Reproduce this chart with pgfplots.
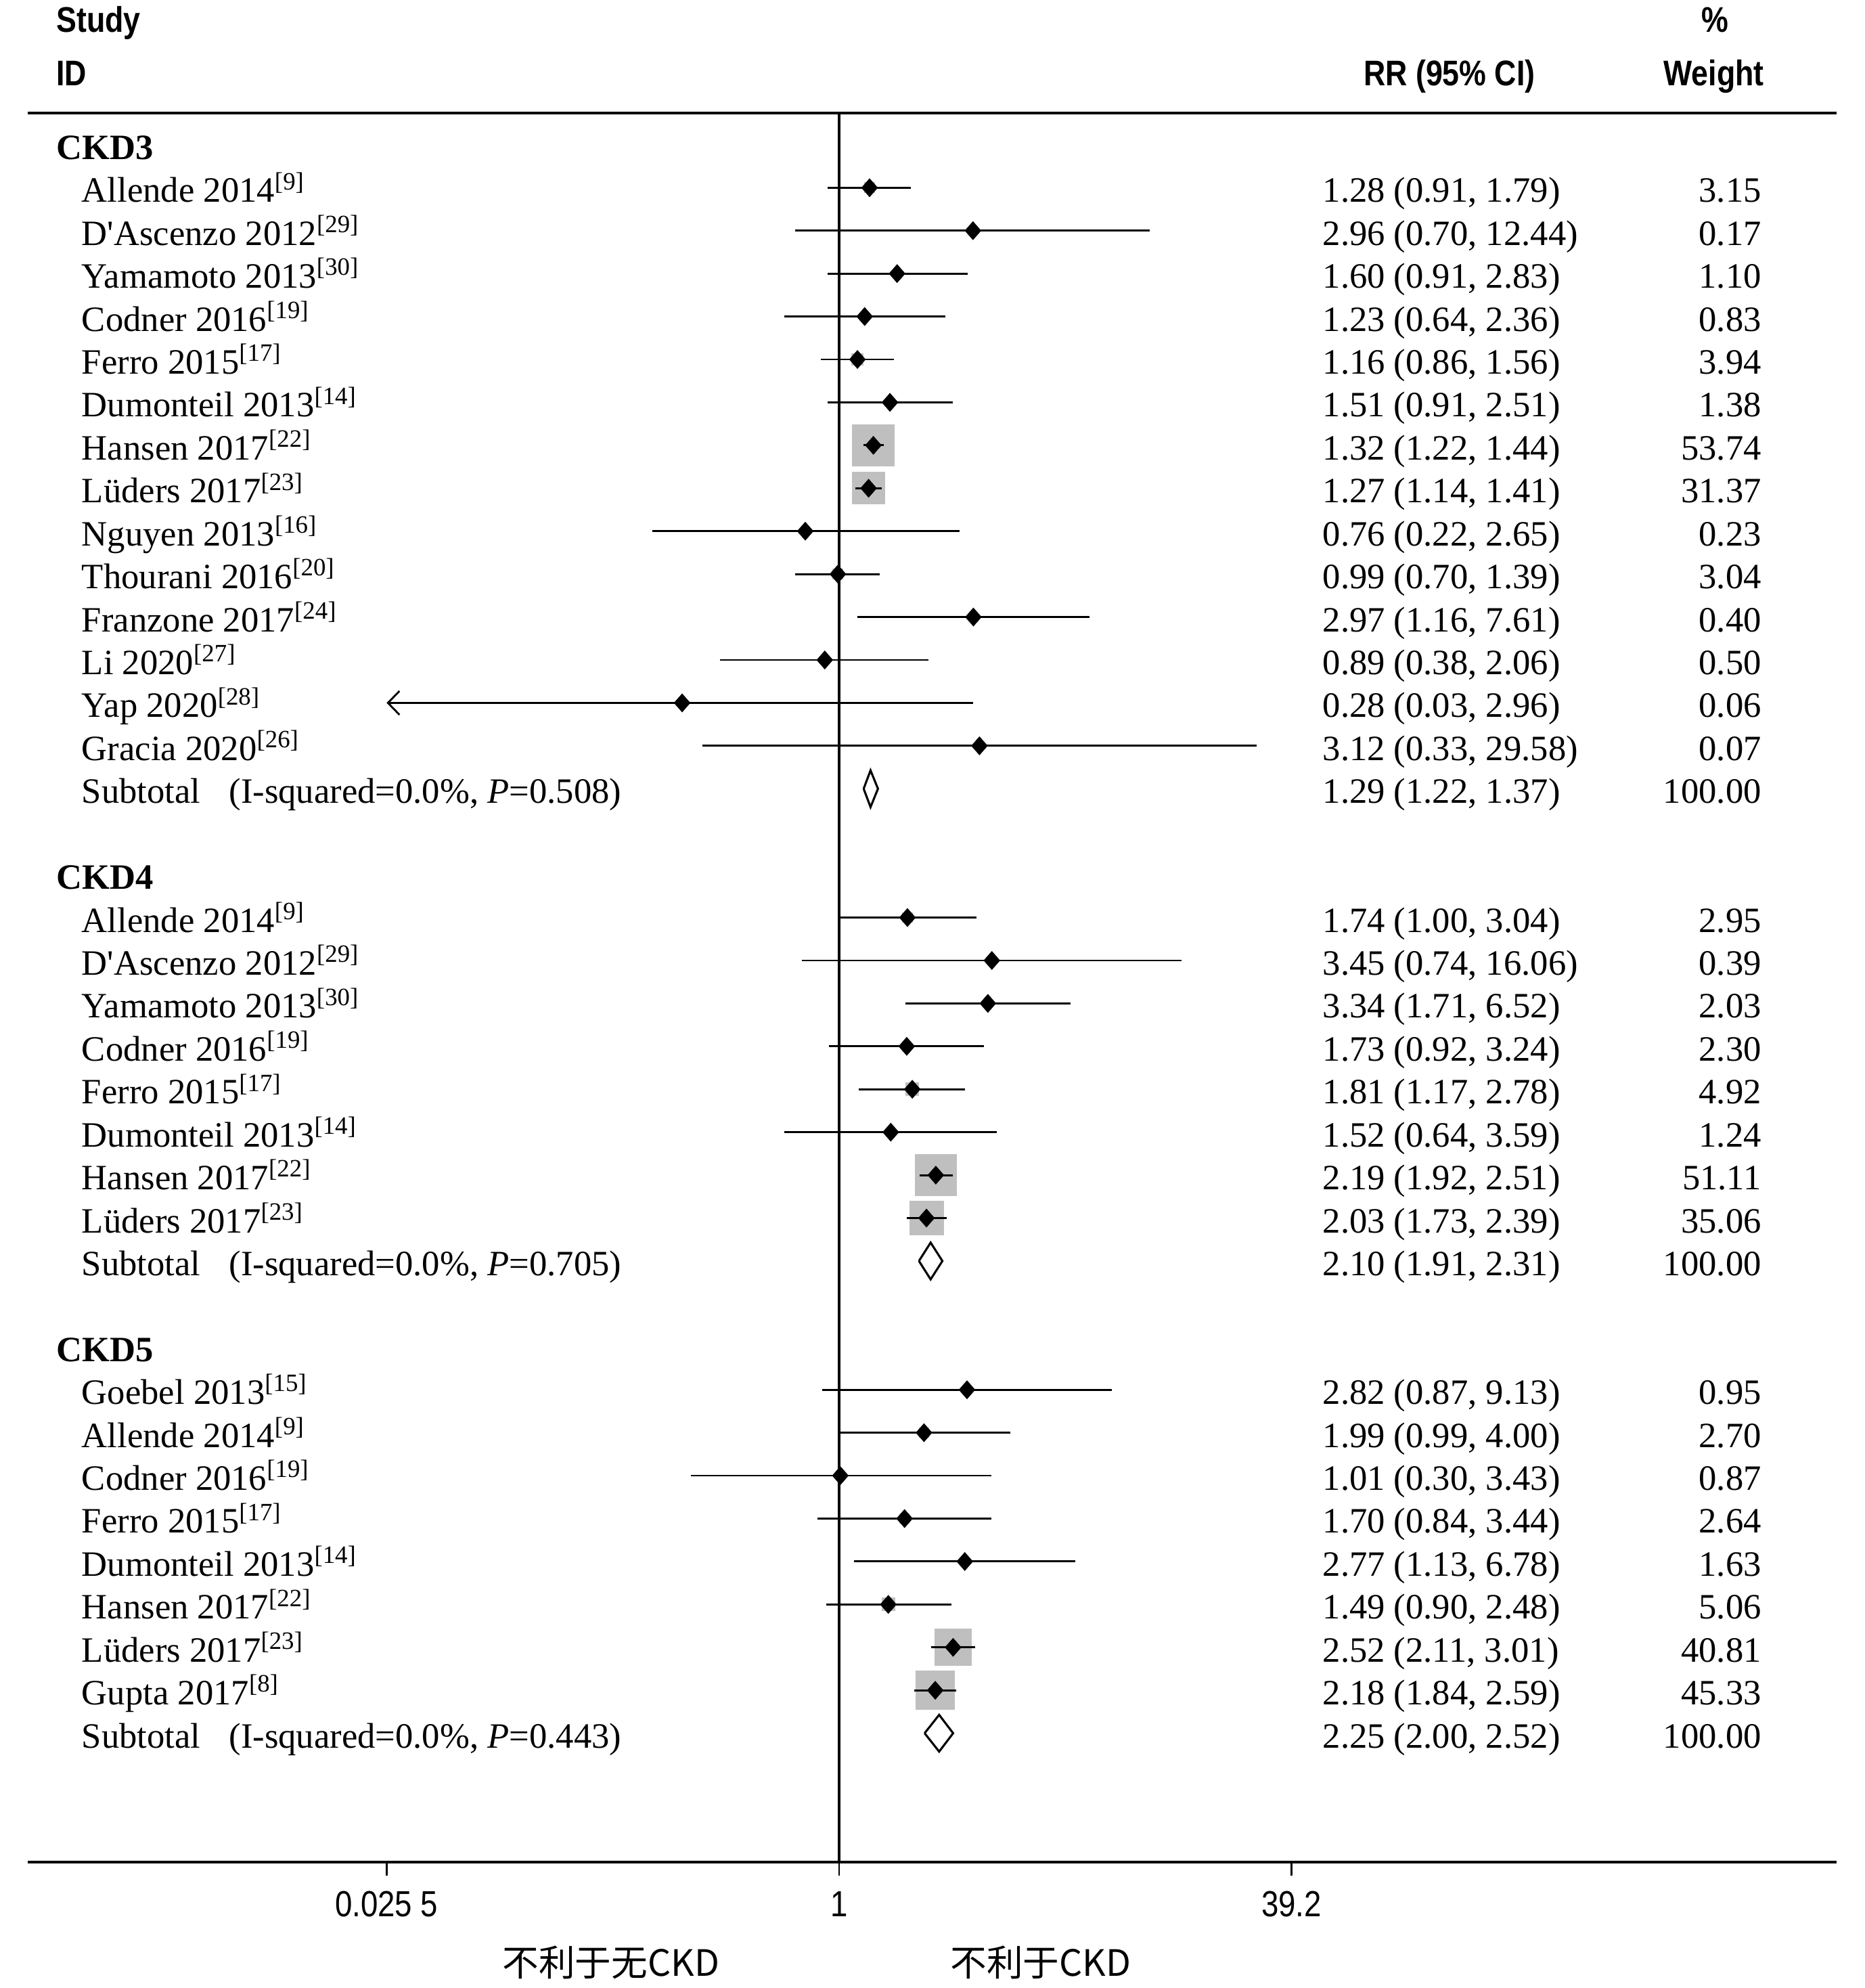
\documentclass[border=0pt]{standalone}
\usepackage{fontspec}
\setmainfont{Liberation Serif}[Ligatures=TeXOff]
\newfontfamily\hdfont[FakeStretch=0.85]{Liberation Sans}
\newfontfamily\cjk{Noto Sans CJK SC}
\usepackage{pgfplots}
\pgfplotsset{compat=1.18}
\usepackage{pgfplotstable}
\usetikzlibrary{arrows.meta}

% row = line of the forest plot (1 = CKD3 heading), est = RR, lo/hi = 95% CI, w = % weight
\pgfplotstableread{
row est lo hi w
2  1.28 0.91 1.79  3.15
3  2.96 0.70 12.44 0.17
4  1.60 0.91 2.83  1.10
5  1.23 0.64 2.36  0.83
6  1.16 0.86 1.56  3.94
7  1.51 0.91 2.51  1.38
8  1.32 1.22 1.44  53.74
9  1.27 1.14 1.41  31.37
10 0.76 0.22 2.65  0.23
11 0.99 0.70 1.39  3.04
12 2.97 1.16 7.61  0.40
13 0.89 0.38 2.06  0.50
14 0.28 0.03 2.96  0.06
15 3.12 0.33 29.58 0.07
}\ckdthree

\pgfplotstableread{
row est lo hi w
19 1.74 1.00 3.04  2.95
20 3.45 0.74 16.06 0.39
21 3.34 1.71 6.52  2.03
22 1.73 0.92 3.24  2.30
23 1.81 1.17 2.78  4.92
24 1.52 0.64 3.59  1.24
25 2.19 1.92 2.51  51.11
26 2.03 1.73 2.39  35.06
}\ckdfour

\pgfplotstableread{
row est lo hi w
30 2.82 0.87 9.13 0.95
31 1.99 0.99 4.00 2.70
32 1.01 0.30 3.43 0.87
33 1.70 0.84 3.44 2.64
34 2.77 1.13 6.78 1.63
35 1.49 0.90 2.48 5.06
36 2.52 2.11 3.01 40.81
37 2.18 1.84 2.59 45.33
}\ckdfive

\newcommand\rf[1]{\textsuperscript{[#1]}}
% one text line: row, study, RR (95% CI), weight
\newcommand\study[4]{%
  \node[inner sep=0pt,anchor=base west,xshift=-217.06pt,yshift=-4.17pt] at (axis cs:1,#1) {#2};
  \node[inner sep=0pt,anchor=base west,xshift=138.30pt,yshift=-4.17pt] at (axis cs:1,#1) {#3};
  \node[inner sep=0pt,anchor=base east,xshift=264.25pt,yshift=-4.17pt] at (axis cs:1,#1) {#4};}
\newcommand\grp[2]{%
  \node[inner sep=0pt,anchor=base west,xshift=-224.32pt,yshift=-4.17pt,font=\bfseries\fontsize{10.2}{12}\selectfont] at (axis cs:1,#1) {#2};}

\pgfplotsset{
  wbox/.style={scatter, only marks, mark=square*,
    scatter/use mapped color={draw=black!25,fill=black!25},
    mark options={line width=0pt},
    visualization depends on={0.8165*sqrt(\thisrow{w}) \as \boxhalf},
    scatter/@pre marker code/.append style={/tikz/mark size=\boxhalf}},
  rr/.style={black, only marks, mark=diamond*, mark size=2.55pt,
    mark options={xscale=1.17, fill=black, draw=black, line width=0.2pt},
    error bars/.cd, x dir=both, x explicit, error mark=none,
    error bar style={line width=0.55pt, black}},
}

\begin{document}
\begin{tikzpicture}[font=\fontsize{10.2}{12}\selectfont]
\useasboundingbox (-7.986pt,-36.04pt) rectangle (525.96pt,533.11pt);
\begin{axis}[
    at={(0,0)}, anchor=south west,
    scale only axis, width=517.97pt, height=500.8pt,
    xmode=log, xmin=0.001391, xmax=3256,
    ymin=0.2558, ymax=41.003, y dir=reverse,
    axis x line=box, axis y line=none,
    x axis line style={line width=0.85pt},
    xtick={0.0255,1,39.2}, xticklabels={0.025 5,1,39.2},
    xminorticks=false,
    xtick pos=left, xtick align=outside, major tick length=3.9pt,
    tick style={black, line width=0.5pt},
    ytick=\empty,
    xticklabel style={font=\hdfont\fontsize{10.4}{12}\selectfont, anchor=base, yshift=-11.7pt},
    clip mode=individual, clip=false,
  ]
  \addplot[black, line width=0.65pt] coordinates {(1,0.2558) (1,41.003)};

  % grey squares, area in proportion to the weight
  \addplot[wbox] table[x=est,y=row] {\ckdthree};
  \addplot[wbox] table[x=est,y=row] {\ckdfour};
  \addplot[wbox] table[x=est,y=row] {\ckdfive};

  \addplot[rr] table[x=est, y=row, x error plus expr=\thisrow{hi}-\thisrow{est},
    x error minus expr=\thisrow{est}-\thisrow{lo}] {\ckdthree};
  \addplot[rr] table[x=est, y=row, x error plus expr=\thisrow{hi}-\thisrow{est},
    x error minus expr=\thisrow{est}-\thisrow{lo}] {\ckdfour};
  \addplot[rr] table[x=est, y=row, x error plus expr=\thisrow{hi}-\thisrow{est},
    x error minus expr=\thisrow{est}-\thisrow{lo}] {\ckdfive};

  % Yap 2020 runs past the left end of the scale
  \addplot[black, line width=0.55pt, -{Straight Barb[length=3.3pt,width=6.8pt]}]
    coordinates {(0.03,14) (0.0255,14)};

  % pooled estimates
  \addplot[black, line width=0.6pt] coordinates {(1.22,16) (1.29,15.572) (1.37,16) (1.29,16.428) (1.22,16)};
  \addplot[black, line width=0.6pt] coordinates {(1.91,27) (2.10,26.572) (2.31,27) (2.10,27.428) (1.91,27)};
  \addplot[black, line width=0.6pt] coordinates {(2.00,38) (2.25,37.572) (2.52,38) (2.25,38.428) (2.00,38)};

  \grp{1}{CKD3}
  \study{2}{Allende 2014\rf{9}}{1.28 (0.91, 1.79)}{3.15}
  \study{3}{D'Ascenzo 2012\rf{29}}{2.96 (0.70, 12.44)}{0.17}
  \study{4}{Yamamoto 2013\rf{30}}{1.60 (0.91, 2.83)}{1.10}
  \study{5}{Codner 2016\rf{19}}{1.23 (0.64, 2.36)}{0.83}
  \study{6}{Ferro 2015\rf{17}}{1.16 (0.86, 1.56)}{3.94}
  \study{7}{Dumonteil 2013\rf{14}}{1.51 (0.91, 2.51)}{1.38}
  \study{8}{Hansen 2017\rf{22}}{1.32 (1.22, 1.44)}{53.74}
  \study{9}{Lüders 2017\rf{23}}{1.27 (1.14, 1.41)}{31.37}
  \study{10}{Nguyen 2013\rf{16}}{0.76 (0.22, 2.65)}{0.23}
  \study{11}{Thourani 2016\rf{20}}{0.99 (0.70, 1.39)}{3.04}
  \study{12}{Franzone 2017\rf{24}}{2.97 (1.16, 7.61)}{0.40}
  \study{13}{Li 2020\rf{27}}{0.89 (0.38, 2.06)}{0.50}
  \study{14}{Yap 2020\rf{28}}{0.28 (0.03, 2.96)}{0.06}
  \study{15}{Gracia 2020\rf{26}}{3.12 (0.33, 29.58)}{0.07}
  \study{16}{Subtotal\hspace{0.8em}(I-squared=0.0\%, \textit{P}=0.508)}{1.29 (1.22, 1.37)}{100.00}

  \grp{18}{CKD4}
  \study{19}{Allende 2014\rf{9}}{1.74 (1.00, 3.04)}{2.95}
  \study{20}{D'Ascenzo 2012\rf{29}}{3.45 (0.74, 16.06)}{0.39}
  \study{21}{Yamamoto 2013\rf{30}}{3.34 (1.71, 6.52)}{2.03}
  \study{22}{Codner 2016\rf{19}}{1.73 (0.92, 3.24)}{2.30}
  \study{23}{Ferro 2015\rf{17}}{1.81 (1.17, 2.78)}{4.92}
  \study{24}{Dumonteil 2013\rf{14}}{1.52 (0.64, 3.59)}{1.24}
  \study{25}{Hansen 2017\rf{22}}{2.19 (1.92, 2.51)}{51.11}
  \study{26}{Lüders 2017\rf{23}}{2.03 (1.73, 2.39)}{35.06}
  \study{27}{Subtotal\hspace{0.8em}(I-squared=0.0\%, \textit{P}=0.705)}{2.10 (1.91, 2.31)}{100.00}

  \grp{29}{CKD5}
  \study{30}{Goebel 2013\rf{15}}{2.82 (0.87, 9.13)}{0.95}
  \study{31}{Allende 2014\rf{9}}{1.99 (0.99, 4.00)}{2.70}
  \study{32}{Codner 2016\rf{19}}{1.01 (0.30, 3.43)}{0.87}
  \study{33}{Ferro 2015\rf{17}}{1.70 (0.84, 3.44)}{2.64}
  \study{34}{Dumonteil 2013\rf{14}}{2.77 (1.13, 6.78)}{1.63}
  \study{35}{Hansen 2017\rf{22}}{1.49 (0.90, 2.48)}{5.06}
  \study{36}{Lüders 2017\rf{23}}{2.52 (2.11, 3.01)}{40.81}
  \study{37}{Gupta 2017\rf{8}}{2.18 (1.84, 2.59)}{45.33}
  \study{38}{Subtotal\hspace{0.8em}(I-squared=0.0\%, \textit{P}=0.443)}{2.25 (2.00, 2.52)}{100.00}
\end{axis}

% headers and direction labels, placed in reference pixel units
\begin{scope}[shift={(-7.986pt,533.11pt)}, x=0.36298pt, y=-0.36298pt,
    every node/.style={inner sep=0pt}]
  \begin{scope}[font=\hdfont\bfseries\fontsize{10.2}{12}\selectfont]
    \node[anchor=base west] at (44,25.5) {Study};
    \node[anchor=base west] at (44,67.6) {ID};
    \node[anchor=base] at (1143.5,67.6) {RR (95\% CI)};
    \node[anchor=base] at (1353,25.5) {\%};
    \node[anchor=base] at (1352,67.6) {Weight};
  \end{scope}
  \node[font=\cjk\fontsize{10.4}{12}\selectfont] at (482,1548) {不利于无CKD};
  \node[font=\cjk\fontsize{10.4}{12}\selectfont] at (821,1548) {不利于CKD};
\end{scope}
\end{tikzpicture}
\end{document}
